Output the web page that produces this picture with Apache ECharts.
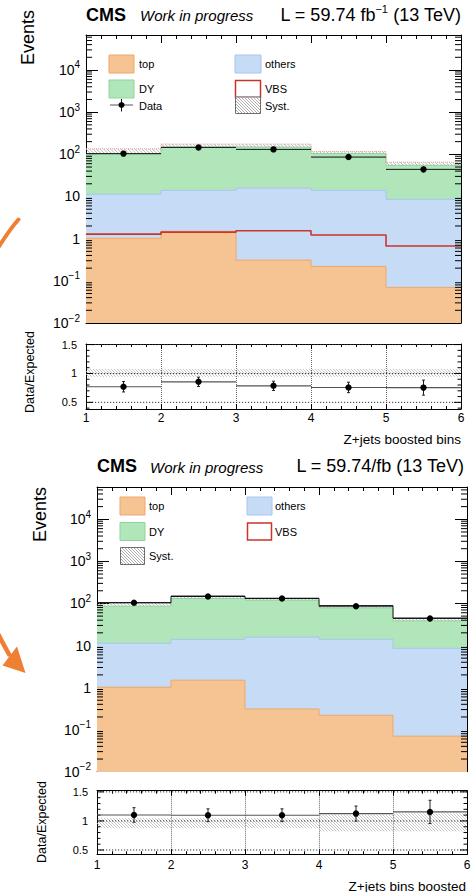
<!DOCTYPE html>
<html>
<head>
<meta charset="utf-8">
<script src="https://cdn.jsdelivr.net/npm/echarts@6/dist/echarts.min.js"></script>
<style>
  html, body { margin: 0; padding: 0; background: #fff; }
  #chart { width: 471px; height: 892px; }
</style>
</head>
<body>
<div id="chart"></div>
<script>
// ---- Z+jets boosted region: bin edges and yields ----
const binEdges = [1, 2, 3, 4, 5, 6];
const xTickValues = [1, 2, 3, 4, 5, 6];

// background processes (events per bin)
const topYield    = [1.02, 1.5, 0.31, 0.22, 0.07];
const othersYield = [10.3, 12.5, 15.5, 13.8, 8.5];
const dyYieldA    = [88.7, 136, 132.2, 91, 46.4];   // first fit
const dyYieldB    = [74.7, 117, 104.2, 64.5, 30];   // second fit
const vbsYieldA   = [1.28, 1.43, 1.54, 1.22, 0.67];

// observed data
const dataCounts = [104, 146, 131, 86, 44];
const dataErr    = [10, 12, 11, 9, 7];

// upper edge of the systematic band on the stack
const systUpA = [135, 175, 175, 117, 65];
const systUpB = [104, 150, 133, 89, 45];

// Data/Expected
const ratioA       = [0.77, 0.855, 0.786, 0.758, 0.755];
const ratioErrA    = [0.09, 0.08, 0.08, 0.09, 0.13];
const ratioBandLoA = [0.94, 0.94, 0.94, 0.94, 0.94];
const ratioBandHiA = [1.08, 1.08, 1.08, 1.08, 1.08];
const ratioB       = [1.103, 1.098, 1.098, 1.126, 1.155];
const ratioErrB    = [0.125, 0.11, 0.11, 0.13, 0.2];
const ratioBandLoB = [0.875, 0.875, 0.875, 0.82, 0.82];
const ratioBandHiB = [1.05, 1.05, 1.05, 1.11, 1.13];

// axis tick values
const logDecades = [-2, -1, 0, 1, 2, 3, 4];
const ratioTickValues = [0.5, 1, 1.5];
const ratioTickLabels = ['0.5', '1', '1.5'];

// ---- styling ----
const FONT = '"Liberation Sans", Arial, Helvetica, sans-serif';
const COL = {
  top:    { fill: '#F5C492', edge: '#EBA86B' },
  others: { fill: '#C6DCF6', edge: '#A6C6EE' },
  dy:     { fill: '#B0E6BA', edge: '#8FD49E' },
  vbs:    '#C8352B',
  hatch:  '#A8A8A8',
  arrow:  '#EF7F33'
};

const sumArr = (...arrs) => arrs[0].map((_, i) => arrs.reduce((s, a) => s + a[i], 0));
const stepData = vals => binEdges.map((x, i) => [x, vals[Math.min(i, vals.length - 1)]]);
const binRows = (...cols) => binEdges.slice(0, -1).map((x, i) => [x, binEdges[i + 1], ...cols.map(c => c[i])]);

function seg(x1, y1, x2, y2, style) {
  return { type: 'line', shape: { x1, y1, x2, y2 }, style: Object.assign({ stroke: '#000', lineWidth: 1 }, style || {}) };
}

// diagonal "\" hatching clipped to a rectangle
function hatch(x0, y0, x1, y1, gap, style) {
  const out = [];
  if (x1 - x0 < 0.5 || y1 - y0 < 0.5) return out;
  for (let c = Math.ceil((y0 - x1) / gap) * gap; c <= y1 - x0; c += gap) {
    const xa = Math.max(x0, y0 - c), xb = Math.min(x1, y1 - c);
    if (xb > xa) out.push(seg(xa, xa + c, xb, xb + c, style));
  }
  return out;
}

function logLabel(v) {
  const k = Math.round(Math.log10(v));
  if (Math.abs(v / Math.pow(10, k) - 1) > 1e-6) return '';
  if (k === 0) return '{n|1}';
  if (k === 1) return '{n|10}';
  return '{n|10}{s|' + (k < 0 ? '\u2212' + (-k) : k) + '}';
}

const panels = [
  {
    mainRect:  { left: 86, top: 35, width: 375, height: 288 },
    ratioRect: { left: 86, top: 344, width: 375, height: 65 },
    yMax: 6.76e4, rMin: 0.385, rMax: 1.51,
    dy: dyYieldA, systUp: systUpA, vbs: vbsYieldA,
    ratioVals: ratioA, ratioErr: ratioErrA, bandLo: ratioBandLoA, bandHi: ratioBandHiA,
    bandEdge: { color: '#E89A9A', type: 'dotted', width: 1 },
    bottomLine: '#000', xLabelMargin: 3
  },
  {
    mainRect:  { left: 97, top: 487, width: 370, height: 284.7 },
    ratioRect: { left: 97, top: 790.7, width: 370, height: 63.6 },
    yMax: 5.86e4, rMin: 0.426, rMax: 1.52,
    dy: dyYieldB, systUp: systUpB, vbs: null,
    ratioVals: ratioB, ratioErr: ratioErrB, bandLo: ratioBandLoB, bandHi: ratioBandHiB,
    bandEdge: { color: '#222', type: 'solid', width: 1 },
    bottomLine: '#7A1F1F', xLabelMargin: 5
  }
];

const grid = [], xAxis = [], yAxis = [], series = [];

function frameX(gridIndex, position, showLabel, labelMargin, lineColor, isRatio) {
  return {
    gridIndex, type: 'value', min: 1, max: 6, interval: 1, position,
    axisLine: { show: true, onZero: false, lineStyle: { color: lineColor || '#000', width: 1 } },
    axisTick: { show: true, inside: true, length: isRatio ? 5 : 8, lineStyle: { color: '#000' } },
    minorTick: { show: true, splitNumber: 5, length: isRatio ? 3 : 4, lineStyle: { color: '#000' } },
    axisLabel: {
      show: showLabel, margin: labelMargin, color: '#000', fontFamily: FONT, fontSize: 12,
      formatter: v => (xTickValues.indexOf(v) >= 0 ? String(v) : '')
    },
    splitLine: { show: isRatio && position === 'bottom', lineStyle: { color: '#666', type: 'dotted', width: 1 } }
  };
}

panels.forEach((p, idx) => {
  const gMain = grid.length;
  grid.push(Object.assign({ containLabel: false, outerBoundsMode: 'none' }, p.mainRect));
  const gRatio = grid.length;
  grid.push(Object.assign({ containLabel: false, outerBoundsMode: 'none' }, p.ratioRect));

  // main pad axes
  const xm = xAxis.length;
  xAxis.push(frameX(gMain, 'bottom', false, 4, p.bottomLine, false));
  xAxis.push(frameX(gMain, 'top', false, 4, '#000', false));
  const ym = yAxis.length;
  const logAxis = (position, showLabel) => ({
    gridIndex: gMain, type: 'log', logBase: 10, min: 0.01, max: p.yMax, position,
    axisLine: { show: true, onZero: false, lineStyle: { color: '#000', width: 1 } },
    axisTick: { show: true, inside: true, length: 12, lineStyle: { color: '#000' } },
    axisLabel: {
      show: showLabel, margin: 6, color: '#000', formatter: logLabel, showMaxLabel: false,
      rich: {
        n: { fontFamily: FONT, fontSize: 14, lineHeight: 20, color: '#000' },
        s: { fontFamily: FONT, fontSize: 10, lineHeight: 10, verticalAlign: 'top', color: '#000' }
      }
    },
    splitLine: { show: false }
  });
  yAxis.push(logAxis('left', true));
  yAxis.push(logAxis('right', false));

  // ratio pad axes
  const xr = xAxis.length;
  xAxis.push(frameX(gRatio, 'bottom', true, p.xLabelMargin, '#000', true));
  xAxis.push(frameX(gRatio, 'top', false, 4, '#000', true));
  const yr = yAxis.length;
  const ratioAxis = position => ({
    gridIndex: gRatio, type: 'value', min: p.rMin, max: p.rMax, position,
    axisLine: { show: true, onZero: false, lineStyle: { color: '#000', width: 1 } },
    axisTick: { show: false }, axisLabel: { show: false }, splitLine: { show: false }
  });
  yAxis.push(ratioAxis('left'));
  yAxis.push(ratioAxis('right'));

  const onMain = { xAxisIndex: xm, yAxisIndex: ym, animation: false };
  const onRatio = { xAxisIndex: xr, yAxisIndex: yr, animation: false };

  // stacked backgrounds: cumulative sums, painted from the tallest layer down
  const cumTop = topYield.slice();
  const cumOthers = sumArr(topYield, othersYield);
  const total = sumArr(topYield, othersYield, p.dy);
  [['DY', total, COL.dy], ['others', cumOthers, COL.others], ['top', cumTop, COL.top]].forEach(([name, vals, c], k) => {
    series.push(Object.assign({
      type: 'line', name, step: 'end', symbol: 'none',
      data: stepData(vals),
      lineStyle: { color: c.edge, width: 1 },
      areaStyle: { color: c.fill, opacity: 1, origin: 'start' },
      z: 2 + k, silent: true
    }, onMain));
  });

  // systematic band on top of the stack
  series.push(Object.assign({
    type: 'custom', name: 'Syst.', z: 6, silent: true,
    data: binRows(total, p.systUp),
    encode: { x: [0, 1], y: [2, 3] },
    renderItem: (params, api) => {
      const a = api.coord([api.value(0), api.value(3)]);
      const b = api.coord([api.value(1), api.value(2)]);
      return { type: 'group', children: hatch(a[0], a[1], b[0], b[1], 3.5, { stroke: COL.hatch, lineWidth: 0.8 }) };
    }
  }, onMain));
  series.push(Object.assign({
    type: 'line', name: 'Syst. edge', step: 'end', symbol: 'none', z: 7, silent: true,
    data: stepData(p.systUp),
    lineStyle: p.bandEdge
  }, onMain));

  // VBS signal outline
  if (p.vbs) {
    series.push(Object.assign({
      type: 'line', name: 'VBS', step: 'end', symbol: 'none', z: 8, silent: true,
      data: stepData(p.vbs),
      lineStyle: { color: COL.vbs, width: 1.6 }
    }, onMain));
  }

  // minor log ticks on both sides
  series.push(Object.assign({
    type: 'custom', name: 'logMinor', z: 20, silent: true, data: [[1, 1]],
    encode: { x: 0, y: 1 },
    renderItem: (params, api) => {
      const cs = params.coordSys, kids = [];
      logDecades.forEach(k => {
        for (let m = 2; m <= 9; m++) {
          const v = m * Math.pow(10, k);
          if (v > p.yMax) continue;
          const y = api.coord([1, v])[1];
          kids.push(seg(cs.x, y, cs.x + 6, y), seg(cs.x + cs.width - 6, y, cs.x + cs.width, y));
        }
      });
      return { type: 'group', children: kids };
    }
  }, onMain));

  // data points with error bars
  series.push(Object.assign({
    type: 'custom', name: 'Data', z: 10, silent: true,
    data: binRows(dataCounts, dataErr),
    encode: { x: [0, 1], y: 2 },
    renderItem: (params, api) => {
      const xl = api.value(0), xh = api.value(1), v = api.value(2), e = api.value(3);
      const xc = (xl + xh) / 2;
      const l = api.coord([xl, v]), r = api.coord([xh, v]), c = api.coord([xc, v]);
      const t = api.coord([xc, v + e]), b = api.coord([xc, v - e]);
      return { type: 'group', children: [
        seg(l[0], l[1], r[0], r[1], { stroke: '#111', lineWidth: 1 }),
        seg(t[0], t[1], b[0], b[1], { stroke: '#111', lineWidth: 1 }),
        { type: 'circle', shape: { cx: c[0], cy: c[1], r: 3.2 }, style: { fill: '#000' } }
      ] };
    }
  }, onMain));

  // ratio pad: systematic band around unity
  series.push(Object.assign({
    type: 'custom', name: 'ratioBand', z: 4, silent: true,
    data: binRows(p.bandLo, p.bandHi),
    encode: { x: [0, 1], y: [2, 3] },
    renderItem: (params, api) => {
      const a = api.coord([api.value(0), api.value(3)]);
      const b = api.coord([api.value(1), api.value(2)]);
      return { type: 'group', children: hatch(a[0], a[1], b[0], b[1], 3, { stroke: '#B8B8B8', lineWidth: 0.8 }) };
    }
  }, onRatio));

  // ratio pad: reference lines, y ticks and labels
  series.push(Object.assign({
    type: 'custom', name: 'ratioAxis', z: 5, silent: true, data: [[1, 1]],
    encode: { x: 0, y: 1 },
    renderItem: (params, api) => {
      const cs = params.coordSys, kids = [];
      ratioTickValues.forEach((v, i) => {
        const y = api.coord([1, v])[1];
        kids.push(seg(cs.x, y, cs.x + cs.width, y, { stroke: '#333', lineWidth: 1, lineDash: [1.2, 1.8] }));
        kids.push({ type: 'text', x: cs.x - 9, y, style: {
          text: ratioTickLabels[i], font: '11px ' + FONT, fill: '#000', align: 'right', verticalAlign: 'middle' } });
      });
      for (let i = Math.ceil(p.rMin * 10); i <= Math.floor(p.rMax * 10); i++) {
        const y = api.coord([1, i / 10])[1];
        const len = i % 5 === 0 ? 7 : 3.5;
        kids.push(seg(cs.x, y, cs.x + len, y), seg(cs.x + cs.width - len, y, cs.x + cs.width, y));
      }
      return { type: 'group', children: kids };
    }
  }, onRatio));

  // ratio pad: Data/Expected points
  series.push(Object.assign({
    type: 'custom', name: 'ratio', z: 10, silent: true,
    data: binRows(p.ratioVals, p.ratioErr),
    encode: { x: [0, 1], y: 2 },
    renderItem: (params, api) => {
      const xl = api.value(0), xh = api.value(1), v = api.value(2), e = api.value(3);
      const xc = (xl + xh) / 2;
      const l = api.coord([xl, v]), r = api.coord([xh, v]), c = api.coord([xc, v]);
      const t = api.coord([xc, v + e]), b = api.coord([xc, v - e]);
      return { type: 'group', children: [
        seg(l[0], l[1], r[0], r[1], { stroke: '#555', lineWidth: 1.1 }),
        seg(t[0], t[1], b[0], b[1], { stroke: '#222', lineWidth: 1 }),
        seg(t[0] - 1.5, t[1], t[0] + 1.5, t[1], { stroke: '#222', lineWidth: 1 }),
        seg(b[0] - 1.5, b[1], b[0] + 1.5, b[1], { stroke: '#222', lineWidth: 1 }),
        { type: 'circle', shape: { cx: c[0], cy: c[1], r: 3.2 }, style: { fill: '#000' } }
      ] };
    }
  }, onRatio));
});

// ---- titles, axis titles, legends and annotation arrows ----
const richTitle = {
  a: { fontFamily: FONT, fontSize: 18, lineHeight: 22, fill: '#000', color: '#000' },
  s: { fontFamily: FONT, fontSize: 11, lineHeight: 11, verticalAlign: 'top', fill: '#000', color: '#000' }
};
function txt(x, y, text, font, align, extra) {
  return Object.assign({ type: 'text', x, y, silent: true,
    style: { text, font, fill: '#000', align: align || 'left', verticalAlign: 'middle' } }, extra || {});
}
function swatch(x, y, w, h, fill, stroke, lw) {
  return { type: 'rect', silent: true, shape: { x, y, width: w, height: h },
    style: { fill, stroke, lineWidth: lw || 1 } };
}
function hatchSwatch(x, y, w, h) {
  return [swatch(x, y, w, h, '#fff', '#666', 1)].concat(
    hatch(x, y, x + w, y + h, 3, { stroke: '#999', lineWidth: 0.8 }).map(e => Object.assign(e, { silent: true })));
}

const graphic = [];
// headers
graphic.push(txt(86, 14.5, 'CMS', 'bold 18px ' + FONT));
graphic.push(txt(140, 15.4, 'Work in progress', 'italic 15px ' + FONT));
graphic.push({ type: 'text', x: 461, y: 14.5, silent: true, style: {
  text: '{a|L = 59.74 fb}{s|\u22121}{a| (13 TeV)}', rich: richTitle, align: 'right', verticalAlign: 'middle' } });
graphic.push(txt(97, 466.4, 'CMS', 'bold 18px ' + FONT));
graphic.push(txt(150, 467.5, 'Work in progress', 'italic 15px ' + FONT));
graphic.push(txt(464, 466.4, 'L = 59.74/fb (13 TeV)', '18px ' + FONT, 'right'));

// axis titles
graphic.push(txt(28, 10, 'Events', '18px ' + FONT, 'right', { rotation: Math.PI / 2 }));
graphic.push(txt(40, 487, 'Events', '18px ' + FONT, 'right', { rotation: Math.PI / 2 }));
graphic.push(txt(30, 372, 'Data/Expected', '12.5px ' + FONT, 'center', { rotation: Math.PI / 2 }));
graphic.push(txt(42, 822, 'Data/Expected', '12.5px ' + FONT, 'center', { rotation: Math.PI / 2 }));
graphic.push(txt(461, 439, 'Z+jets boosted bins', '13.5px ' + FONT, 'right'));
graphic.push(txt(466, 886, 'Z+jets bins boosted', '13.5px ' + FONT, 'right'));

// legend of the first panel
const LF = '11px ' + FONT;
graphic.push(swatch(109, 55, 25, 18, COL.top.fill, COL.top.edge));
graphic.push(txt(139, 64, 'top', LF));
graphic.push(swatch(109, 80, 25, 18, COL.dy.fill, COL.dy.edge));
graphic.push(txt(139, 89, 'DY', LF));
graphic.push(seg(110, 105, 133, 105, { stroke: '#555', lineWidth: 1 }));
graphic.push(seg(121.5, 99, 121.5, 111.5, { stroke: '#111', lineWidth: 1 }));
graphic.push({ type: 'circle', silent: true, shape: { cx: 121.5, cy: 105, r: 3 }, style: { fill: '#000' } });
graphic.push(txt(139, 106, 'Data', LF));
graphic.push(swatch(235, 55, 26, 18, COL.others.fill, COL.others.edge));
graphic.push(txt(265, 64, 'others', LF));
graphic.push(swatch(235.5, 80.5, 25, 17, '#fff', COL.vbs, 1.5));
graphic.push(txt(265, 89, 'VBS', LF));
hatchSwatch(235.5, 97, 25, 16.5).forEach(e => graphic.push(e));
graphic.push(txt(265, 106, 'Syst.', LF));

// legend of the second panel
graphic.push(swatch(120, 497, 25, 18, COL.top.fill, COL.top.edge));
graphic.push(txt(149, 506, 'top', LF));
graphic.push(swatch(120, 522.5, 25, 18, COL.dy.fill, COL.dy.edge));
graphic.push(txt(149, 531.5, 'DY', LF));
hatchSwatch(120.5, 547.5, 24, 17).forEach(e => graphic.push(e));
graphic.push(txt(149, 556, 'Syst.', LF));
graphic.push(swatch(247, 497, 25, 18, COL.others.fill, COL.others.edge));
graphic.push(txt(275, 506, 'others', LF));
graphic.push(swatch(247.5, 523, 24, 17, '#fff', COL.vbs, 1.5));
graphic.push(txt(275, 531.5, 'VBS', LF));

// annotation arrows in the left margin
graphic.push({ type: 'bezierCurve', silent: true,
  shape: { x1: 18.5, y1: 219.5, cpx1: 10, cpy1: 229, x2: -2, y2: 248 },
  style: { stroke: COL.arrow, lineWidth: 4, lineCap: 'round', fill: null } });
graphic.push({ type: 'bezierCurve', silent: true,
  shape: { x1: -6, y1: 626, cpx1: 2, cpy1: 642, x2: 10, y2: 656 },
  style: { stroke: COL.arrow, lineWidth: 4.5, lineCap: 'butt', fill: null } });
graphic.push({ type: 'polygon', silent: true,
  shape: { points: [[17, 646.5], [25.5, 673], [2.5, 665.5]] },
  style: { fill: COL.arrow } });

const chart = echarts.init(document.getElementById('chart'), null, { renderer: 'svg', width: 471, height: 892 });
chart.setOption({
  animation: false,
  backgroundColor: '#fff',
  textStyle: { fontFamily: FONT },
  grid, xAxis, yAxis, series, graphic
});
</script>
</body>
</html>
